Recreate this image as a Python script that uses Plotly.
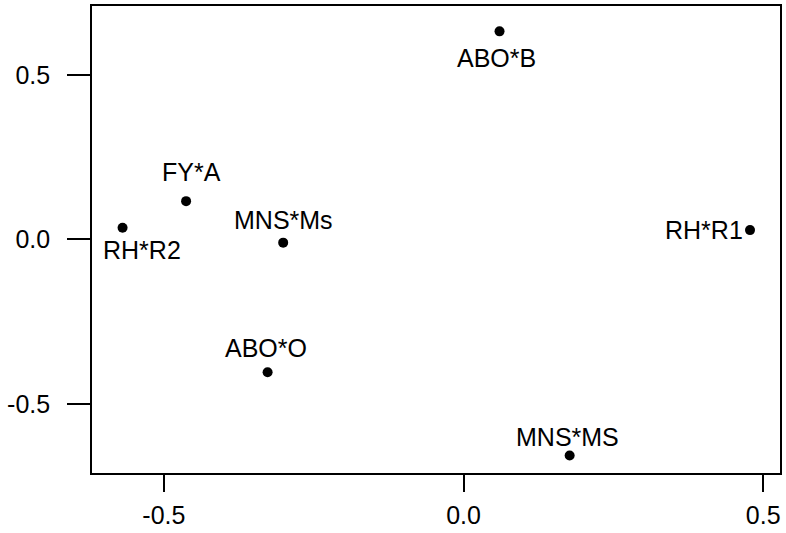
import plotly.graph_objects as go

labels = ["ABO*B", "RH*R1", "FY*A", "RH*R2", "MNS*Ms", "ABO*O", "MNS*MS"]
x_vals = [0.060, 0.478, -0.463, -0.569, -0.301, -0.327, 0.177]
y_vals = [0.632, 0.028, 0.116, 0.035, -0.010, -0.404, -0.657]

# label placement (pixel offsets relative to the point)
label_xshift = [-3, -5, 5, 19, 0, -2, -2]
label_yshift = [-27, 0, 29, -22, 23, 24, 19]
label_xanchor = ["center", "right", "center", "center", "center", "center", "center"]

x_ticks = [-0.5, 0.0, 0.5]
x_ticktext = ["-0.5", "0.0", "0.5"]
y_ticks = [-0.5, 0.0, 0.5]
y_ticktext = ["-0.5", "0.0", "0.5"]

FONT = "Liberation Sans, Arial, sans-serif"

fig = go.Figure()
fig.add_trace(go.Scatter(
    x=x_vals, y=y_vals, mode="markers",
    marker=dict(color="black", size=10),
    hoverinfo="skip", showlegend=False,
))

for lab, xv, yv, xs, ys, xa in zip(labels, x_vals, y_vals, label_xshift, label_yshift, label_xanchor):
    fig.add_annotation(
        x=xv, y=yv, text=lab, showarrow=False,
        xanchor=xa, yanchor="middle", xshift=xs, yshift=ys,
        font=dict(family=FONT, size=25, color="black"),
    )

fig.update_layout(
    width=786, height=533,
    margin=dict(l=92, r=5, t=4, b=58),
    paper_bgcolor="white", plot_bgcolor="white",
    font=dict(family=FONT, size=25, color="black"),
)
fig.update_xaxes(
    range=[-0.62, 0.528], tickvals=x_ticks, ticktext=x_ticktext,
    showgrid=False, zeroline=False,
    showline=True, linecolor="black", linewidth=1.6, mirror=True,
    ticks="outside", ticklen=17, tickwidth=1.6, tickcolor="black",
    ticklabelstandoff=2,
)
fig.update_yaxes(
    range=[-0.71, 0.709], tickvals=y_ticks, ticktext=y_ticktext,
    showgrid=False, zeroline=False,
    showline=True, linecolor="black", linewidth=1.6, mirror=True,
    ticks="outside", ticklen=23, tickwidth=1.6, tickcolor="black",
    ticklabelstandoff=12,
)

fig.write_html("out.html")
